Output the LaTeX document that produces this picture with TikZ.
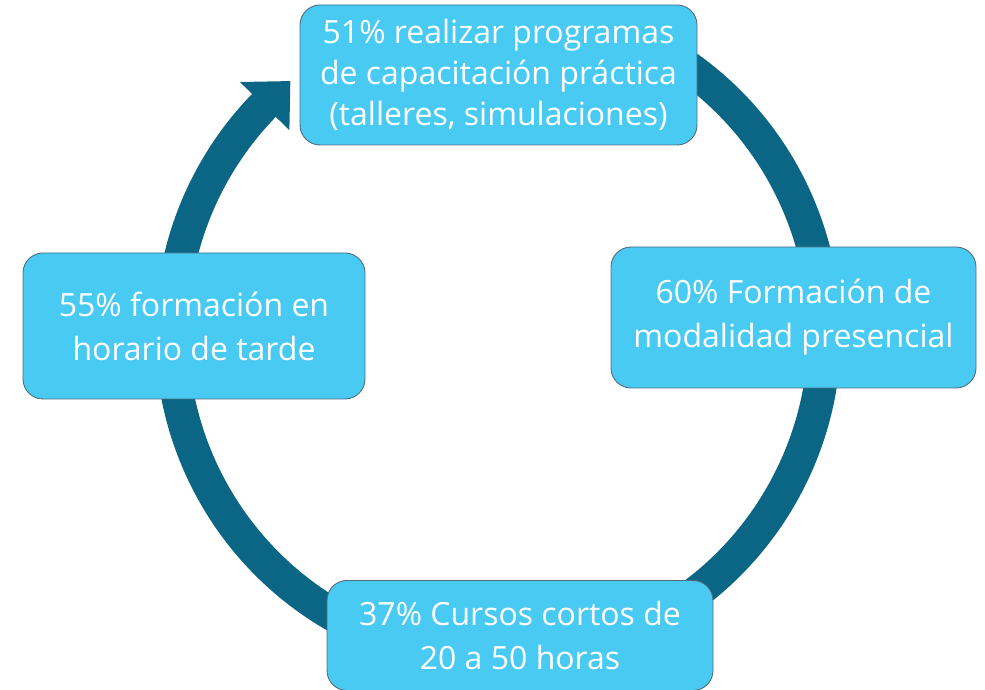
\documentclass[tikz,border=0pt]{standalone}
\usepackage{fontspec}
\setmainfont{Open Sans}
\usepackage{xcolor}
\usepackage{tikz}
\usetikzlibrary{positioning,calc}

\definecolor{ringblue}{RGB}{10,102,132}
\definecolor{boxblue}{RGB}{72,202,243}
\definecolor{boxline}{RGB}{80,110,122}

\tikzset{
  ring/.style={draw=ringblue, line width=33pt, line cap=butt},
  ringhead/.style={fill=ringblue, draw=none},
  stagebox/.style={draw=boxline, line width=0.9pt, fill=boxblue, rounded corners=20pt,
    text=white, align=center, inner sep=0pt,
    font=\fontsize{32}{44}\selectfont},
  tightlines/.style={font=\fontsize{32}{41}\selectfont}
}

\begin{document}
\begin{tikzpicture}[x=1pt,y=1pt]
\useasboundingbox (0,0) rectangle (985,690);

% cycle ring with arrow head
\coordinate (ringc) at (498,357);
\draw[ring] (ringc) ++(62:326.5) arc[start angle=62, end angle=-224.5, radius=326.5];
\begin{scope}[shift={(ringc)}]
\fill[ringhead] (135.8:291) -- (129.5:326.5) -- (135.8:360) -- cycle;
\end{scope}

% stages
\node[stagebox, tightlines, minimum width=397pt, minimum height=140pt] (practica) at (498.5,615)
  {51\% realizar programas\\de capacitación práctica\\(talleres, simulaciones)};
\node[stagebox, minimum width=365pt, minimum height=141pt] (presencial) at (793.5,372.5)
  {60\% Formación de\\modalidad presencial};
\node[stagebox, minimum width=386pt, minimum height=110pt] (cursos) at (520,54.5)
  {37\% Cursos cortos de\\20 a 50 horas};
\node[stagebox, minimum width=342pt, minimum height=146pt] (tarde) at (194,364)
  {55\% formación en\\horario de tarde};
\end{tikzpicture}
\end{document}
